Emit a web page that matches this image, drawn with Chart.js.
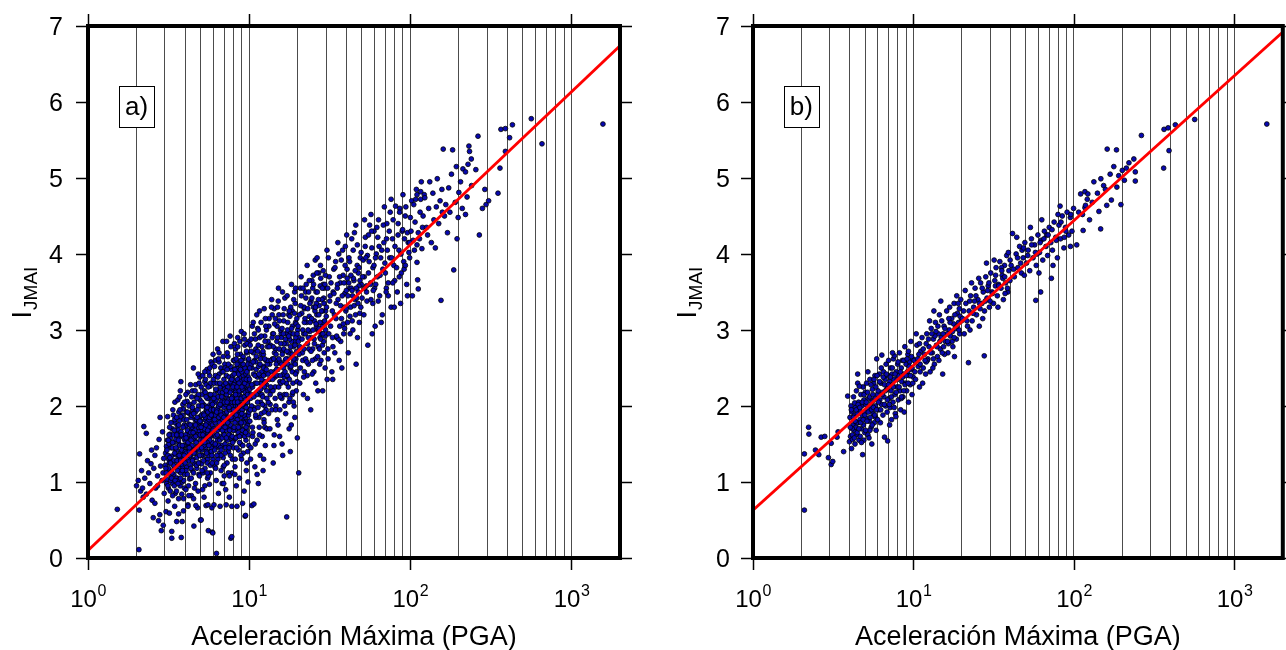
<!DOCTYPE html>
<html><head><meta charset="utf-8">
<script src="https://cdn.jsdelivr.net/npm/chart.js@4.4.1/dist/chart.umd.min.js"></script>
<style>
html,body{margin:0;padding:0;background:#fff;width:1286px;height:650px;overflow:hidden}
canvas{position:absolute;top:0}
#ca{left:0}#cb{left:643px}
</style></head><body>
<canvas id="ca" width="643" height="650"></canvas>
<canvas id="cb" width="643" height="650"></canvas>
<script>
// ---------- axis / tick data ----------
const yTickVals = [0,1,2,3,4,5,6,7];
const decadeVals = [1,10,100,1000];
const decadeExp = ['0','1','2','3'];
const gridPGA = [2,3,4,5,6,7,8,9,10,20,30,40,50,60,70,80,90,100,200,300,400,500,600,700,800,900,1000];
const xTitle = 'Aceleración Máxima (PGA)';
const yTitleMain = 'I', yTitleSub = 'JMAI';
const panelLabels = ['a)','b)'];

// ---------- fitted lines [PGA, I] ----------
const fitA = [[1,0.1],[2000,6.74]];
const fitB = [[1,0.63],[2000,6.92]];

// ---------- panel a) scatter [PGA, I] ----------
const ptsA_low = [[1.52,0.64],[2.07,0.11],[2.08,0.63],[2.09,1.37],[2.22,1.73],[2.3,1.64],[2.0,0.95],[2.05,1.02],[2.12,0.88],[2.18,0.92],[2.25,1.05],[2.3,0.84],[2.38,1.12],[2.42,0.98],[2.46,1.24],[2.5,0.76],[2.54,0.53],[2.56,1.18],[2.6,1.35],[2.63,0.92],[2.66,1.45],[2.7,1.08],[2.74,0.49],[2.76,1.56],[2.79,0.57],[2.82,1.21],[2.85,0.36],[2.88,1.02],[2.9,1.66],[2.93,0.43],[2.95,1.31],[2.97,0.85],[2.34,1.28],[2.15,1.15],[2.6,0.72],[2.48,1.42],[2.8,1.85],[2.7,0.95],[2.92,1.12],[2.2,0.8]];
const ptsA_3to4 = [[3.02,1.22],[3.05,0.61],[3.07,1.47],[3.1,1.03],[3.12,1.86],[3.15,0.92],[3.17,1.3],[3.2,0.59],[3.22,1.15],[3.25,1.58],[3.27,1.08],[3.31,0.26],[3.31,0.35],[3.33,1.7],[3.35,0.98],[3.37,1.26],[3.55,0.48],[3.42,1.52],[3.44,1.19],[3.46,2.05],[3.48,0.85],[3.5,1.42],[3.06,1.12],[3.14,0.75],[3.23,1.63],[3.29,1.34],[3.36,1.95],[3.41,1.1],[3.47,1.78],[3.19,1.25],
[3.52,1.2],[3.54,0.88],[3.57,1.64],[3.59,1.05],[3.61,2.08],[3.63,1.31],[3.65,0.78],[3.67,1.5],[3.69,1.14],[3.71,1.81],[3.73,0.95],[3.75,1.38],[3.77,2.32],[3.79,0.27],[3.81,1.22],[3.83,1.6],[3.85,1.0],[3.87,1.46],[3.89,1.96],[3.91,0.62],[3.93,1.27],[3.95,1.75],[3.97,1.1],[3.99,1.55],[3.56,1.42],[3.62,1.69],[3.68,1.18],[3.74,2.2],[3.8,1.35],[3.86,1.88],[3.92,1.02],[3.98,1.4],[3.6,1.58],[3.72,1.33],[3.84,0.48],
[3.03,1.38],[3.08,0.98],[3.11,1.55],[3.16,1.18],[3.21,1.72],[3.24,0.88],[3.28,1.45],[3.32,1.12],[3.38,1.62],[3.4,1.28],[3.43,0.95],[3.45,1.82],[3.49,1.36],[3.53,1.05],[3.58,1.74],[3.64,1.24],[3.66,1.92],[3.7,1.48],[3.76,1.12],[3.78,1.66],[3.82,1.42],[3.88,2.02],[3.9,1.3],[3.94,1.58],[3.96,0.92],[3.13,1.35],[3.26,1.02],[3.39,1.88],[3.51,1.56],[3.63,1.02],[3.76,1.86],[3.88,1.18],[3.18,1.5],[3.34,1.45],[3.57,1.28],[3.7,2.12],[3.82,0.84],[3.95,1.82],[3.45,0.68],[3.65,0.58]];
const ptsA_4to6 = [[4.02,1.4],[4.05,0.9],[4.08,1.74],[4.1,1.2],[4.12,2.06],[4.15,1.5],[4.17,0.7],[4.2,1.63],[4.22,1.28],[4.25,1.9],[4.27,1.04],[4.3,1.57],[4.33,2.28],[4.35,1.36],[4.38,0.82],[4.4,1.7],[4.43,1.15],[4.46,1.95],[4.48,1.44],[4.51,2.5],[4.54,0.42],[4.56,1.6],[4.59,1.24],[4.62,1.82],[4.65,0.98],[4.67,1.53],[4.7,2.12],[4.73,1.32],[4.76,1.78],[4.79,0.66],[4.82,1.48],[4.85,2.0],[4.88,1.1],[4.91,1.67],[4.94,2.38],[4.97,1.86],[4.99,0.5],[4.17,0.68],[4.67,0.69],[4.07,1.38],[4.28,1.55],[4.44,1.72],[4.6,1.45],[4.75,1.62],[4.9,1.25],[4.36,1.85],[4.52,1.12],[4.83,2.42],[4.14,1.68],[4.64,1.92],[4.41,1.58],
[5.02,1.6],[5.04,0.5],[5.06,1.88],[5.08,1.24],[5.1,2.15],[5.12,1.5],[5.14,0.9],[5.16,1.74],[5.18,1.35],[5.2,2.02],[5.23,1.58],[5.25,0.8],[5.27,1.66],[5.3,2.32],[5.32,1.18],[5.34,1.82],[5.37,1.45],[5.4,0.69],[5.42,1.94],[5.45,1.3],[5.47,2.48],[5.5,1.62],[5.52,1.05],[5.55,0.7],[5.57,1.86],[5.58,0.36],[5.6,1.4],[5.63,2.1],[5.65,1.54],[5.67,0.97],[5.7,1.78],[5.72,2.26],[5.75,1.12],[5.77,1.7],[5.8,2.58],[5.82,1.45],[5.85,1.98],[5.87,0.66],[5.9,0.34],[5.92,1.9],[5.95,0.33],[5.97,2.68],[5.99,1.5],[5.13,1.68],[5.28,1.72],[5.44,1.95],[5.61,2.0],[5.78,1.6],[5.93,1.82],[5.35,2.35],[5.22,1.64],[5.53,1.3],[5.68,2.4],[5.88,1.52],[5.08,1.42],
[4.03,1.62],[4.06,1.15],[4.09,1.92],[4.13,1.32],[4.16,2.18],[4.19,1.45],[4.21,0.95],[4.24,1.76],[4.26,1.4],[4.29,2.02],[4.31,1.22],[4.34,1.65],[4.37,1.05],[4.39,1.88],[4.42,1.48],[4.45,2.2],[4.47,1.3],[4.5,1.75],[4.53,1.58],[4.55,2.05],[4.58,0.92],[4.61,1.68],[4.63,1.38],[4.66,2.28],[4.69,1.52],[4.72,1.82],[4.74,1.18],[4.77,1.95],[4.8,1.62],[4.84,2.15],[4.87,1.42],[4.89,1.78],[4.92,1.08],[4.95,2.08],[4.98,1.55],
[5.01,1.8],[5.05,1.35],[5.09,2.05],[5.11,1.62],[5.15,2.4],[5.17,1.12],[5.21,1.9],[5.24,1.48],[5.26,2.2],[5.29,1.7],[5.31,0.95],[5.36,1.85],[5.38,1.58],[5.41,2.28],[5.43,1.4],[5.46,1.78],[5.49,2.1],[5.51,1.25],[5.54,1.92],[5.56,1.65],[5.59,2.45],[5.62,1.35],[5.64,1.82],[5.66,2.15],[5.69,1.55],[5.71,1.98],[5.74,1.22],[5.76,2.3],[5.79,1.72],[5.81,2.05],[5.83,1.4],[5.86,1.88],[5.89,2.55],[5.91,1.62],[5.94,2.12],[5.96,1.3],[5.98,1.95],[5.19,1.55],[5.33,2.0],[5.48,1.52],[5.62,1.72],[5.77,1.95],[5.92,1.75],[5.04,2.25],[5.58,1.08]];
const ptsA_6to10 = [[6.02,1.95],[6.05,0.7],[6.07,2.3],[6.1,1.62],[6.12,1.2],[6.15,2.05],[6.17,1.78],[6.2,2.6],[6.22,1.45],[6.25,1.02],[6.27,0.06],[6.3,1.88],[6.32,2.2],[6.35,1.55],[6.37,2.75],[6.4,1.3],[6.42,1.98],[6.45,0.85],[6.47,2.12],[6.5,1.7],[6.52,2.42],[6.55,1.38],[6.57,1.82],[6.6,0.68],[6.62,2.02],[6.65,1.6],[6.67,2.5],[6.7,1.15],[6.72,1.92],[6.75,2.25],[6.77,1.48],[6.8,0.98],[6.82,2.08],[6.85,1.75],[6.87,2.85],[6.9,1.32],[6.92,2.0],[6.95,1.65],[6.97,2.35],[7.0,1.08],[7.03,1.85],[7.06,2.55],[7.09,1.5],[7.12,2.15],[7.15,0.9],[7.18,1.9],[7.2,0.7],[7.23,2.4],[7.26,1.72],[7.29,1.25],[7.32,2.1],[7.35,1.58],[7.38,2.65],[7.41,1.98],[7.44,1.4],[7.47,2.28],[7.5,1.8],[7.53,0.8],[7.56,2.05],[7.59,1.62],[7.62,2.92],[7.65,1.35],[7.68,1.95],[7.7,0.26],[7.72,2.2],[7.75,1.7],[7.78,2.48],[7.8,0.28],[7.82,1.12],[7.85,2.12],[7.88,1.55],[7.91,2.35],[7.94,1.88],[7.97,1.45],[7.99,2.6],[6.33,1.72],[6.88,1.9],[7.36,2.0],[7.8,0.68],[6.58,2.18],
[8.02,2.1],[8.05,1.55],[8.08,2.6],[8.11,1.85],[8.14,2.32],[8.17,1.2],[8.2,2.0],[8.23,2.75],[8.26,1.68],[8.29,2.22],[8.32,0.95],[8.35,1.9],[8.38,2.45],[8.4,0.68],[8.43,2.08],[8.46,1.6],[8.49,2.9],[8.52,1.78],[8.55,2.3],[8.58,1.42],[8.61,2.15],[8.64,2.55],[8.67,1.92],[8.7,1.05],[8.73,2.38],[8.76,1.72],[8.79,2.05],[8.82,2.68],[8.85,1.5],[8.88,2.2],[8.91,1.85],[8.94,2.98],[8.97,1.3],[9.0,2.12],[9.03,2.5],[9.06,1.62],[9.09,2.28],[9.1,0.72],[9.13,1.95],[9.16,2.62],[9.19,1.38],[9.22,2.1],[9.25,1.8],[9.28,2.42],[9.31,0.88],[9.34,2.25],[9.37,1.7],[9.4,2.8],[9.44,0.55],[9.47,2.0],[9.5,0.56],[9.53,2.35],[9.56,1.55],[9.59,2.15],[9.62,1.88],[9.65,2.7],[9.68,1.25],[9.71,2.05],[9.74,2.48],[9.77,1.75],[9.8,2.22],[9.83,1.0],[9.86,2.6],[9.89,1.95],[9.92,2.32],[9.95,1.48],[9.98,2.85],[8.6,1.98],[9.2,2.4],[8.35,2.5],
[6.03,1.7],[6.08,2.15],[6.11,1.42],[6.14,1.88],[6.18,2.4],[6.21,1.6],[6.24,2.08],[6.28,1.25],[6.31,1.95],[6.34,2.3],[6.38,1.68],[6.41,2.12],[6.44,1.48],[6.48,1.85],[6.51,2.58],[6.54,1.78],[6.58,1.55],[6.61,2.25],[6.64,1.92],[6.68,1.35],[6.71,2.05],[6.74,1.72],[6.78,2.45],[6.81,1.58],[6.84,2.18],[6.88,1.82],[6.91,1.2],[6.94,2.28],[6.98,1.98],[7.01,1.62],[7.04,2.22],[7.07,1.78],[7.11,2.5],[7.14,1.45],[7.17,2.02],[7.21,1.68],[7.24,2.15],[7.27,1.92],[7.31,2.7],[7.34,1.55],[7.37,2.25],[7.4,1.85],[7.43,1.12],[7.46,2.08],[7.49,1.62],[7.52,2.38],[7.55,1.95],[7.58,1.48],[7.61,2.18],[7.64,1.75],[7.67,2.52],[7.71,2.0],[7.74,1.58],[7.77,2.3],[7.81,1.82],[7.84,2.05],[7.87,1.3],[7.9,2.4],[7.93,2.12],[7.96,1.68],
[8.03,2.28],[8.07,1.72],[8.12,2.05],[8.16,2.48],[8.19,1.58],[8.24,2.18],[8.27,1.92],[8.31,2.62],[8.36,1.45],[8.39,2.1],[8.44,1.82],[8.47,2.35],[8.51,2.0],[8.56,1.65],[8.59,2.42],[8.63,1.88],[8.68,2.2],[8.72,1.52],[8.77,2.58],[8.8,2.02],[8.84,1.75],[8.89,2.32],[8.93,2.1],[8.96,1.62],[9.01,2.45],[9.05,1.95],[9.11,2.22],[9.14,1.48],[9.18,2.65],[9.21,2.0],[9.26,1.78],[9.29,2.35],[9.33,2.12],[9.38,1.6],[9.42,2.5],[9.46,2.18],[9.51,1.85],[9.55,2.42],[9.58,1.98],[9.63,2.72],[9.66,1.68],[9.7,2.28],[9.75,2.05],[9.79,1.4],[9.82,2.55],[9.85,2.2],[9.9,1.88],[9.93,2.62],[9.97,2.1],[8.45,2.68],[8.9,1.35],[9.35,2.88],[9.85,1.62],[8.15,1.1],[8.75,2.85],[9.6,1.15],[7.25,2.85],[6.45,2.62],[6.95,0.98],[7.55,1.08]];
const ptsA_core = [[3.04,1.18],[3.09,1.42],[3.13,0.95],[3.18,1.62],[3.22,1.32],[3.27,1.78],[3.3,1.05],[3.35,1.52],[3.39,1.22],[3.43,1.68],[3.47,1.02],[3.51,1.45],[3.55,1.85],[3.6,1.15],[3.64,1.55],[3.68,1.35],[3.72,1.95],[3.76,1.28],[3.8,1.62],[3.85,1.15],[3.89,1.72],[3.93,1.48],[3.97,2.05],[4.01,1.25],[4.06,1.58],[4.1,1.82],[4.14,1.1],[4.18,1.52],[4.23,2.0],[4.27,1.35],[4.31,1.75],[4.36,1.55],[4.4,2.12],[4.45,1.28],[4.49,1.65],[4.53,1.9],[4.58,1.42],[4.62,2.2],[4.66,1.6],[4.71,1.22],[4.75,1.85],[4.8,1.45],[4.84,1.72],[4.89,2.3],[4.93,1.35],[4.97,1.62],[3.15,1.55],[3.35,0.82],[3.55,1.62],[3.75,1.05],[3.95,1.35],[4.15,1.92],[4.35,1.18],[4.55,1.38],[4.75,2.1],[4.95,1.8],[3.25,1.25],[3.45,1.38],[3.65,1.75],[3.85,1.48],[4.05,2.15],[4.25,1.45],[4.45,1.98],[4.65,1.75],[4.85,1.25],[3.62,0.98],[3.92,0.78],[4.22,0.82],[4.52,0.78],[4.82,0.88],
[5.03,1.72],[5.07,1.45],[5.12,2.0],[5.16,1.62],[5.21,1.28],[5.25,1.88],[5.3,1.52],[5.34,2.18],[5.39,1.75],[5.44,1.38],[5.48,1.98],[5.53,1.68],[5.58,2.25],[5.62,1.48],[5.67,1.85],[5.72,1.62],[5.77,2.15],[5.82,1.88],[5.87,1.35],[5.92,2.02],[5.97,1.68],[6.04,2.1],[6.1,1.82],[6.16,1.5],[6.22,2.22],[6.28,1.92],[6.34,1.62],[6.4,2.38],[6.46,2.0],[6.52,1.72],[6.58,2.3],[6.64,1.45],[6.7,1.88],[6.76,2.12],[6.83,1.68],[6.89,2.45],[6.96,1.85],[7.02,2.05],[7.09,1.72],[7.16,2.3],[7.22,1.58],[7.29,2.05],[7.36,1.78],[7.43,2.55],[7.5,1.98],[7.57,1.68],[7.64,2.32],[7.71,1.85],[7.78,2.1],[7.85,1.6],[7.92,2.25],[8.0,1.95],[8.08,2.42],[8.16,1.78],[8.24,2.15],[8.32,1.88],[8.4,2.55],[8.48,2.05],[8.57,1.72],[8.65,2.3],[8.74,2.0],[8.83,2.48],[8.92,1.78],[9.01,2.25],[9.1,2.02],[9.19,2.55],[9.29,1.88],[9.38,2.3],[9.48,2.08],[9.57,1.72],[9.67,2.45],[9.77,2.15],[9.87,2.38],[9.96,1.92],[5.1,1.15],[5.5,1.12],[5.9,1.25],[6.3,1.35],[6.7,1.42],[7.1,1.38],[7.5,1.45],[7.9,1.52],[8.3,1.58],[8.7,1.6],[9.1,1.68],[9.5,1.65],[9.9,1.8],[5.3,2.45],[5.7,2.5],[6.1,2.52],[6.5,2.7],[6.9,2.65],[7.3,2.48],[7.7,2.78],[8.1,2.82],[8.5,2.78],[8.9,2.6],[9.3,2.95],[9.7,2.82],[6.0,2.35],[6.6,2.02],[7.2,2.2],[7.8,2.35],[8.4,2.25],[9.0,1.9],[9.6,2.35],[5.4,2.12],[6.2,1.18],[7.0,1.22],[8.2,1.3],
[10.1,2.22],[10.4,2.5],[10.7,1.98],[11.0,2.75],[11.3,2.4],[11.6,2.15],[11.9,2.68],[12.2,2.45],[12.5,2.92],[12.8,2.28],[13.1,2.85],[13.4,2.55],[13.7,2.2],[14.0,2.95],[14.3,2.45],[14.6,2.75],[14.9,3.05],[15.2,2.58],[15.5,2.32],[15.8,2.95],[16.1,2.72],[16.4,3.12],[16.7,2.55],[17.0,2.82],[17.3,2.38],[17.6,3.2],[17.9,2.72],[18.2,2.95],[18.5,3.25],[18.8,2.58],[19.1,2.85],[19.4,3.1],[19.7,2.45],[20.0,3.0],[20.6,2.78],[21.2,3.22],[21.8,2.95],[22.4,3.5],[23.0,2.82],[23.6,3.18],[24.2,3.38],[24.8,2.75],[25.4,3.12],[26.0,3.5],[26.6,3.0],[27.2,3.32],[27.8,3.68],[28.4,3.05],[29.0,3.42],[29.6,2.92],[10.5,1.6],[11.5,1.85],[12.5,1.72],[13.5,2.02],[14.5,2.25],[15.5,2.15],[16.5,2.38],[17.5,2.25],[18.5,2.15],[19.5,2.62],[10.3,2.88],[11.3,3.02],[12.3,2.52],[13.3,3.15],[14.3,3.28],[15.3,3.2],[16.3,2.42],[17.3,2.62],[18.3,2.85],[19.3,3.35],[20.8,3.55],[22.0,3.28],[23.3,2.55],[24.5,3.65],[25.8,2.62],[27.0,3.75],[28.5,2.8],[29.8,3.25],[21.5,2.6],[23.8,2.98],[26.3,3.2],[28.8,3.6],[12.0,2.15],[14.8,2.6],[17.8,2.95],[20.3,2.9],[22.7,3.1],[25.1,3.3],[27.5,2.9],[29.3,3.55]];
const ptsA_10to20 = [[10.05,2.35],[10.1,1.8],[10.15,2.8],[10.2,2.1],[10.25,1.45],[10.3,2.55],[10.35,2.0],[10.4,0.69],[10.45,3.05],[10.5,2.25],[10.55,1.65],[10.6,2.7],[10.65,2.42],[10.7,0.71],[10.75,1.95],[10.8,2.6],[10.85,1.2],[10.9,2.3],[10.95,2.88],[11.0,1.85],[11.05,2.48],[11.1,2.15],[11.15,3.2],[11.2,1.55],[11.25,2.38],[11.3,2.72],[11.35,1.98],[11.4,0.98],[11.45,2.52],[11.5,2.2],[11.55,1.72],[11.6,2.9],[11.65,2.4],[11.7,1.35],[11.75,2.62],[11.8,2.05],[11.85,3.1],[11.9,1.9],[11.95,2.45],[12.0,2.78],[12.05,1.6],[12.1,2.32],[12.15,2.12],[12.2,1.15],[12.25,2.68],[12.3,2.5],[12.35,1.82],[12.4,3.28],[12.45,2.25],[12.5,2.0],[12.55,2.85],[12.6,1.48],[12.65,2.42],[12.7,2.6],[12.75,1.95],[12.8,3.0],[12.85,2.2],[12.9,1.7],[12.95,2.55],[10.3,2.15],[11.0,2.58],[11.8,2.3],[12.4,1.92],[10.9,1.5],[11.4,3.0],
[13.05,2.6],[13.15,2.05],[13.25,3.05],[13.35,2.35],[13.45,1.7],[13.55,2.8],[13.65,2.45],[13.75,3.3],[13.85,1.95],[13.95,2.62],[14.05,2.2],[14.15,2.95],[14.25,1.48],[14.35,2.7],[14.45,2.38],[14.55,3.15],[14.65,2.0],[14.75,2.55],[14.85,2.85],[14.95,1.82],[15.05,2.48],[15.15,3.38],[15.25,2.25],[15.35,2.75],[15.45,1.6],[15.55,2.58],[15.65,3.0],[15.75,2.3],[15.85,2.9],[15.95,2.1],[16.05,2.68],[16.15,1.35],[16.25,3.2],[16.35,2.5],[16.45,2.82],[16.55,2.15],[16.65,3.42],[16.75,2.6],[16.85,1.9],[16.95,2.95],[17.1,0.54],[17.2,2.4],[17.35,3.1],[17.5,2.7],[17.65,2.05],[17.8,2.88],[17.95,2.5],[18.1,3.3],[18.25,1.75],[18.4,2.65],[18.55,3.05],[18.7,2.3],[18.85,2.78],[19.0,2.0],[19.15,3.5],[19.3,2.55],[19.45,2.9],[19.6,2.2],[19.75,3.15],[19.9,1.58],[13.6,2.25],[14.1,2.78],[14.9,2.4],[15.6,2.12],[16.3,2.95],[17.0,2.3],[17.7,3.25],[18.5,2.45],[19.2,1.85],[15.2,3.55],[13.9,3.2],[16.9,2.62],[18.9,3.4],[14.6,1.95],[17.9,2.1],
[10.08,2.5],[10.18,1.95],[10.28,2.72],[10.38,2.28],[10.48,1.72],[10.58,2.58],[10.68,2.12],[10.78,2.95],[10.88,2.4],[10.98,1.88],[11.08,2.65],[11.18,2.3],[11.28,2.05],[11.38,2.8],[11.48,2.42],[11.58,1.62],[11.68,2.55],[11.78,2.22],[11.88,2.92],[11.98,2.35],[12.08,2.02],[12.18,2.72],[12.28,2.4],[12.38,1.78],[12.48,2.62],[12.58,2.32],[12.68,3.05],[12.78,2.48],[12.88,2.1],[12.98,2.78],
[13.1,2.42],[13.3,2.78],[13.5,2.15],[13.7,2.6],[13.9,2.9],[14.0,2.35],[14.2,2.62],[14.4,3.08],[14.5,2.1],[14.7,2.68],[14.8,2.48],[15.0,2.9],[15.1,1.75],[15.3,2.62],[15.4,3.12],[15.6,2.4],[15.7,2.82],[15.9,2.55],[16.0,3.02],[16.2,2.32],[16.4,2.75],[16.5,3.28],[16.7,2.45],[16.8,2.88],[17.0,2.15],[17.15,2.72],[17.3,3.0],[17.45,2.55],[17.6,2.92],[17.75,2.35],[17.9,3.18],[18.05,2.78],[18.2,2.52],[18.35,3.02],[18.5,2.68],[18.65,2.18],[18.8,2.95],[18.95,2.62],[19.1,3.22],[19.25,2.8],[19.4,2.42],[19.55,3.08],[19.7,2.72],[19.85,2.95],[13.2,1.9],[14.3,1.62],[15.5,1.95],[16.6,2.0],[17.7,1.7],[18.8,2.05],[19.8,2.32],[13.8,3.4],[15.0,3.3],[16.1,3.5],[17.2,3.45],[18.3,3.6],[19.4,3.55],[10.6,3.1],[11.6,3.25],[12.6,3.15],[10.2,1.3],[11.2,1.1],[12.3,1.3],[14.1,1.25],[16.0,1.5],[18.0,1.4]];
const ptsA_20to60 = [[20.3,1.12],[20.2,2.85],[20.5,3.2],[20.8,2.5],[21.1,3.45],[21.4,2.7],[21.7,2.15],[22.0,3.1],[22.3,2.95],[22.6,3.6],[22.9,2.4],[23.2,3.0],[23.5,2.75],[23.8,3.35],[24.1,1.95],[24.4,3.15],[24.7,2.6],[25.0,3.72],[25.3,2.88],[25.6,3.25],[25.9,2.3],[26.2,3.05],[26.5,3.5],[26.8,2.78],[27.1,3.2],[27.4,2.55],[27.7,3.85],[28.0,2.95],[28.3,3.4],[28.6,2.2],[28.9,3.1],[29.2,2.7],[29.5,3.6],[29.8,3.0],[20.6,2.3],[21.5,3.0],[22.4,2.62],[23.4,3.5],[24.3,2.9],[25.2,2.45],[26.1,3.35],[27.0,2.98],[27.9,2.6],[28.8,3.78],[29.6,2.5],[21.0,3.7],[23.0,2.1],[24.8,3.55],[26.7,2.2],[28.5,3.25],[22.0,2.45],[25.7,3.92],[27.5,3.1],[29.0,2.85],[21.9,3.3],
[30.2,3.3],[30.8,2.75],[31.4,3.7],[32.0,3.05],[32.6,2.45],[33.2,3.5],[33.8,3.2],[34.4,3.9],[35.0,2.9],[35.6,3.4],[36.2,2.6],[36.8,3.62],[37.4,3.15],[38.0,4.05],[38.6,2.95],[39.2,3.48],[39.8,3.25],[40.5,3.8],[41.2,2.7],[41.9,3.55],[42.6,3.3],[43.3,4.2],[44.0,3.0],[44.7,3.65],[45.4,3.4],[46.1,2.55],[46.8,3.85],[47.5,3.5],[48.2,3.1],[48.9,3.95],[49.6,3.6],[31.0,3.95],[32.9,2.9],[34.7,3.35],[36.5,3.05],[38.3,3.72],[40.1,3.52],[42.0,3.9],[43.8,3.45],[45.7,3.2],[47.6,3.75],[49.3,3.3],[30.5,2.35],[33.5,3.8],[37.0,2.85],[39.5,4.1],[42.3,2.95],[45.0,4.28],[48.0,3.58],[35.3,3.6],[31.8,3.45],[40.8,3.1],[46.5,3.42],[38.9,3.3],[44.3,3.68],[34.0,2.7],[36.0,4.0],[41.5,3.62],[47.0,2.9],[43.0,3.55],
[20.1,3.05],[20.4,2.68],[20.9,3.32],[21.3,2.88],[21.6,3.55],[21.9,2.75],[22.2,3.15],[22.5,3.42],[22.8,2.58],[23.1,3.28],[23.3,2.9],[23.6,3.65],[23.9,3.1],[24.2,2.72],[24.5,3.42],[24.9,3.0],[25.1,3.6],[25.4,2.82],[25.8,3.3],[26.0,3.08],[26.3,3.75],[26.6,2.65],[26.9,3.4],[27.2,3.02],[27.6,3.58],[27.8,2.88],[28.1,3.25],[28.4,3.55],[28.7,2.95],[29.1,3.35],[29.4,3.12],[29.7,3.72],[30.1,3.18],[30.7,3.55],[31.2,2.95],[31.6,3.38],[32.2,3.62],[32.8,3.25],[33.1,2.78],[33.6,3.48],[34.1,3.82],[34.6,3.15],[35.2,3.55],[35.8,2.88],[36.4,3.7],[36.9,3.32],[37.3,3.92],[37.8,3.45],[38.4,3.08],[38.8,3.62],[39.4,3.85],[40.0,3.28],[40.6,3.68],[41.0,3.45],[41.6,3.95],[42.2,3.18],[42.8,3.72],[43.5,3.52],[44.2,4.05],[44.8,3.32],[45.5,3.78],[46.2,3.55],[46.9,4.12],[47.4,3.35],[48.1,3.82],[48.7,3.65],[49.5,4.02],[50.2,3.42],[51.0,3.92],[51.8,3.7],[52.6,4.22],[53.4,3.58],[54.2,3.98],[55.0,3.75],[55.9,4.38],[56.8,3.62],[57.7,4.08],[58.6,3.82],[59.5,4.3],[60.0,3.55],[21.8,2.38],[24.6,2.42],[27.3,2.75],[30.9,2.62],[34.9,2.92],[39.1,3.02],[43.6,3.12],[48.6,3.22],[53.8,3.38],[58.9,3.52],[22.9,3.85],[26.4,3.95],[30.4,4.05],[35.5,4.15],[40.3,4.25],[45.9,4.38],[52.0,4.45],[57.0,4.52],[33.0,2.35],[37.6,2.5]];
const ptsA_50to200 = [[50.5,3.7],[51.5,3.2],[52.5,4.1],[53.5,3.5],[54.5,2.8],[55.5,3.9],[56.5,3.6],[57.5,4.3],[58.5,3.35],[59.5,3.85],[60.5,3.05],[61.5,4.0],[62.5,3.7],[63.5,4.45],[64.5,3.45],[65.5,3.95],[67,3.2],[68.5,4.15],[70,3.75],[71.5,4.4],[73,3.45],[74.5,3.95],[76,3.3],[77.5,4.2],[79,3.85],[81,4.63],[83,3.5],[85,4.05],[87,3.35],[89,4.3],[91,3.9],[93,4.5],[95,3.6],[97,4.15],[99,3.95],[52,3.55],[55,4.25],[58,2.95],[61,3.6],[64,4.1],[67.5,3.8],[71,3.55],[75,4.55],[79.5,3.3],[84,4.4],[88,3.75],[92,4.2],[96,3.45],[53,3.95],[57,3.4],[62,4.35],[66,3.1],[72,4.05],[80,3.65],[86,4.6],
[60.8,3.95],[62.8,4.22],[64.9,3.72],[66.5,4.05],[68.0,4.38],[69.5,3.88],[71.2,4.2],[72.9,3.62],[74.0,4.3],[76.5,3.95],[78.2,4.45],[80.3,4.1],[82.2,3.82],[83.9,4.25],[85.8,4.55],[87.5,4.0],[89.6,4.32],[91.5,3.8],[93.8,4.62],[95.8,4.28],[98.0,4.02],[100,4.48],[102,4.7],[104,4.18],[107,4.42],[109,4.85],[112,4.28],[115,4.55],[117,4.95],[119,4.35],[63.2,3.38],[70.8,3.5],[77.8,3.62],[85.4,3.7],[93.2,3.85],[69.0,4.62],[76.0,4.72],[90.0,4.78],[99.0,4.15],[110,4.12],
[101,4.3],[103,3.45],[105,4.65],[108,4.72],[110,4.78],[110,3.89],[111,3.66],[112,3.54],[114,4.2],[116,4.82],[116,4.72],[118,4.07],[120,4.5],[122,4.78],[123,4.74],[126,4.35],[130,4.6],[132,4.95],[135,4.15],[138,4.8],[140,4.45],[143,4.08],[145,4.62],[147,4.99],[150,4.4],[153,4.7],[155,3.39],[157,4.85],[160,5.38],[163,4.5],[166,4.65],[170,4.28],[173,4.87],[176,4.55],[180,5.05],[183,5.37],[186,3.79],[190,4.68],[193,5.15],[195,4.2],[198,4.48],[106,4.05],[128,4.25],[158,4.55]];
const ptsA_high = [[200,4.81],[205,4.95],[212,5.12],[220,5.08],[220,4.52],[228,5.18],[231,5.42],[233,5.35],[239,5.25],[255,5.11],[263,5.55],[268,4.25],[280,4.6],[290,4.85],[295,4.65],[306,4.7],[350,4.8],[360,5.13],[365,5.64],[389,5.65],[389,5.35],[413,5.53],[430,5.7],[563,5.78],[656,5.45],[1567,5.71],[210,4.6],[240,4.9],[225,4.75]];

// ---------- panel b) scatter [PGA, I] ----------
const ptsB_low = [[2.09,0.63],[2.09,1.37],[2.22,1.72],[2.23,1.63],[2.57,1.36],[2.66,1.59],[2.95,1.32],[3.07,1.23],[3.14,1.27],[3.07,1.51],[3.34,1.59],[3.39,1.66],[3.67,1.4],[3.89,2.13],[3.99,1.53],[2.45,1.42],[2.8,1.6]];
const ptsB_4to10 = [[4.02,1.85],[4.05,1.6],[4.08,2.0],[4.11,1.44],[4.14,1.92],[4.17,1.56],[4.2,1.75],[4.23,2.12],[4.26,1.68],[4.29,1.88],[4.32,1.5],[4.35,1.98],[4.38,1.72],[4.41,2.2],[4.44,1.62],[4.47,1.9],[4.49,2.42],[4.49,2.3],[4.52,1.78],[4.55,2.05],[4.58,1.55],[4.61,1.95],[4.64,1.82],[4.66,1.6],[4.7,2.15],[4.73,1.7],[4.76,2.0],[4.79,1.88],[4.82,1.36],[4.85,2.25],[4.88,1.75],[4.91,2.08],[4.94,1.92],[4.97,1.65],[5.0,2.18],[5.05,1.84],[5.1,2.3],[5.15,1.96],[5.2,1.62],[5.25,2.1],[5.3,1.8],[5.35,2.35],[5.4,2.0],[5.45,1.72],[5.5,1.5],[5.55,2.22],[5.6,1.9],[5.65,2.08],[5.7,1.78],[5.75,2.4],[5.8,2.0],[5.85,1.68],[5.9,2.62],[5.95,2.15],[4.3,2.04],[4.6,2.26],[4.9,1.55],[5.2,2.45],[5.5,2.05],[5.8,1.85],[4.15,1.7],[4.45,1.78],[5.05,2.02],[5.35,1.68],[5.65,2.3],
[6.02,2.2],[6.07,1.95],[6.12,2.42],[6.17,2.08],[6.22,1.78],[6.27,2.3],[6.32,2.02],[6.35,2.67],[6.4,2.18],[6.45,1.88],[6.5,2.45],[6.55,2.12],[6.6,1.59],[6.65,2.35],[6.7,2.0],[6.75,2.55],[6.8,2.22],[6.85,1.92],[6.9,1.54],[6.95,2.4],[7.0,2.6],[7.05,2.1],[7.1,2.32],[7.15,1.98],[7.2,2.5],[7.25,2.2],[7.3,1.82],[7.35,2.42],[7.4,2.28],[7.45,2.05],[7.5,2.62],[7.55,2.35],[7.6,2.66],[7.65,2.15],[7.7,1.9],[7.77,1.86],[7.83,2.45],[7.9,2.25],[7.97,2.55],[8.04,2.08],[8.11,2.38],[8.18,2.7],[8.25,2.2],[8.32,1.95],[8.39,2.5],[8.46,2.32],[8.53,2.6],[8.6,2.12],[8.67,2.42],[8.75,1.92],[8.83,2.78],[8.91,2.3],[8.99,2.55],[9.07,2.2],[9.15,2.45],[9.23,2.68],[9.31,2.05],[9.39,2.4],[9.47,2.58],[9.55,2.28],[9.63,2.85],[9.71,2.48],[9.79,2.15],[9.87,2.62],[9.95,2.38],[6.3,2.5],[6.9,2.25],[7.4,2.7],[8.0,2.4],[8.7,2.2],[9.3,2.72],[6.6,2.28],[7.1,1.75],[8.4,2.1],[9.8,2.5],
[4.04,1.72],[4.1,1.95],[4.16,1.62],[4.22,1.85],[4.28,1.58],[4.33,1.8],[4.4,1.95],[4.46,1.65],[4.52,2.02],[4.57,1.7],[4.63,1.98],[4.69,1.78],[4.74,1.52],[4.8,2.05],[4.86,1.82],[4.92,2.15],[4.98,1.88],[5.03,1.68],[5.08,2.05],[5.13,1.8],[5.18,2.18],[5.23,1.92],[5.28,1.58],[5.33,2.12],[5.38,1.85],[5.43,2.28],[5.48,1.95],[5.53,1.75],[5.58,2.15],[5.63,1.98],[5.68,2.35],[5.73,1.88],[5.78,2.1],[5.83,2.25],[5.88,1.95],[5.93,2.4],[5.98,1.82],
[6.05,2.05],[6.15,2.32],[6.25,1.95],[6.38,2.15],[6.48,2.38],[6.58,2.02],[6.68,2.2],[6.78,2.42],[6.88,2.08],[6.98,2.28],[7.08,2.02],[7.18,2.38],[7.28,2.12],[7.38,2.5],[7.48,2.25],[7.58,1.98],[7.68,2.42],[7.8,2.18],[7.92,2.35],[8.02,2.58],[8.14,2.25],[8.28,2.45],[8.42,2.12],[8.56,2.38],[8.7,2.6],[8.85,2.28],[9.0,2.4],[9.12,2.62],[9.27,2.3],[9.42,2.52],[9.58,2.4],[9.72,2.65],[9.9,2.3]];
const ptsB_10to40 = [[10.1,2.6],[10.3,2.35],[10.5,2.8],[10.7,2.52],[10.9,2.25],[11.1,2.72],[11.3,2.9],[11.5,2.5],[11.7,2.68],[11.9,2.42],[12.1,2.95],[12.3,2.62],[12.5,2.78],[12.7,2.45],[12.9,3.02],[13.1,2.7],[13.3,2.88],[13.5,2.55],[13.7,3.1],[13.9,2.8],[14.1,2.65],[14.3,2.95],[14.5,3.2],[14.7,2.75],[14.9,2.9],[15.2,2.42],[15.5,3.05],[15.8,2.85],[16.1,3.25],[16.4,2.7],[16.7,3.0],[17.0,2.92],[17.3,3.15],[17.6,2.78],[17.9,3.35],[18.2,3.02],[18.5,2.88],[18.8,3.22],[19.1,3.1],[19.4,2.95],[19.7,3.4],[10.4,2.95],[10.8,2.68],[11.4,2.3],[12.0,2.82],[12.6,3.12],[13.2,2.5],[13.8,2.98],[14.4,2.6],[15.0,3.12],[15.6,2.68],[16.2,2.95],[16.8,3.3],[17.4,2.85],[18.0,2.65],[18.6,3.45],[19.2,3.0],[11.0,2.45],[12.2,2.6],[13.4,3.25],[14.8,3.38],[16.5,2.82],[17.8,3.08],[19.5,3.18],[15.3,2.95],
[10.2,2.45],[10.6,2.62],[11.0,2.55],[11.5,2.75],[12.0,2.58],[12.4,2.88],[12.8,2.7],[13.3,2.62],[13.6,2.92],[14.0,2.78],[14.6,2.85],[15.1,2.7],[15.7,3.02],[16.3,2.85],[16.9,3.1],[17.5,2.98],[18.1,3.2],[18.7,3.05],[19.3,3.28],[19.9,3.12],[10.9,2.82],[11.8,2.6],[13.0,2.95],[14.2,3.05],[15.4,2.78],[16.6,3.15],[17.9,2.9],[19.0,3.35],
[20.2,3.15],[20.7,2.95],[21.2,3.35],[21.7,3.05],[22.0,2.57],[22.2,3.25],[22.7,3.45],[23.2,3.12],[23.7,3.3],[24.2,3.55],[24.7,3.2],[25.2,3.4],[25.7,3.05],[26.2,3.62],[26.7,3.35],[27.2,3.5],[27.6,2.66],[27.7,3.25],[28.2,3.7],[28.7,3.42],[29.2,3.58],[29.7,3.3],[30.3,3.75],[30.9,3.5],[31.5,3.35],[32.1,3.65],[32.7,3.82],[33.3,3.45],[33.9,3.6],[34.5,3.9],[35.1,3.55],[35.7,3.72],[36.3,3.4],[36.9,3.85],[37.5,3.62],[38.1,3.98],[38.7,3.5],[39.3,3.78],[39.9,3.65],[21.0,3.52],[22.5,3.0],[24.0,3.38],[25.5,3.68],[27.0,3.15],[28.5,3.88],[30.0,3.38],[31.8,3.92],[33.6,3.3],[35.4,3.82],[37.2,3.48],[39.0,4.02],[23.0,3.62],[26.0,3.28],[29.0,3.52],[32.4,3.58],[36.0,3.68],
[20.5,3.25],[21.5,3.12],[22.4,3.38],[23.5,3.22],[24.5,3.45],[25.8,3.35],[26.8,3.55],[28.0,3.38],[29.5,3.62],[31.0,3.48],[32.5,3.72],[34.0,3.58],[35.5,3.78],[37.0,3.7],[38.5,3.55]];
const ptsB_40to100 = [[40.6,3.85],[41.4,4.27],[42.5,3.7],[43.6,4.0],[44.7,3.82],[45.8,4.1],[47,3.75],[48.2,3.95],[49.4,4.15],[50.6,3.88],[51.8,4.05],[53,3.78],[54.3,4.2],[55.6,3.95],[56.9,4.12],[57.8,3.39],[58.2,3.85],[59.6,4.25],[61,4.02],[62,3.5],[62.4,4.18],[63,4.45],[63.9,3.92],[65.4,4.3],[66.9,4.1],[68.5,3.98],[70.1,4.35],[71.7,4.15],[72.3,3.68],[73.4,4.05],[75.2,4.42],[77,4.22],[78.8,3.95],[80.6,4.38],[81.9,4.63],[82.5,4.2],[84.5,4.5],[86.5,4.08],[88.5,4.35],[90.6,4.55],[92.7,4.25],[94.9,4.48],[97.1,4.3],[99.4,4.6],[44,4.22],[49,3.72],[53.5,4.35],[58.8,4.0],[67.5,4.25],[74,3.85],[79.5,4.52],[87,4.22],[95,4.1],[60.5,3.75],[47.5,4.05],
[40.0,3.92],[42.0,3.8],[44.5,3.95],[46.5,3.88],[48.5,4.08],[51.5,3.98],[54.5,4.12],[57.5,4.02],[61.5,4.15],[65.0,4.2],[69.0,4.25],[73.0,4.32],[77.5,4.18],[83.0,4.42],[89.0,4.3],[95.5,4.52]];
const ptsB_high = [[104,4.12],[107,4.55],[110,4.79],[113,4.52],[114,4.31],[117,4.82],[117,4.61],[118,4.64],[121,4.72],[122,4.79],[125,4.45],[130,4.68],[133,4.95],[140,4.8],[143,4.56],[147,4.99],[146.6,4.33],[153,4.9],[157,4.85],[160,4.64],[161,5.38],[168,5.05],[171,4.71],[177,5.15],[184,5.37],[185,4.88],[190,5.03],[196,4.65],[200,5.1],[206,4.97],[212,5.13],[220,5.2],[236,5.25],[241,5.08],[241,4.96],[263,5.56],[362,5.13],[364,5.64],[386,5.66],[391,5.36],[428,5.7],[565,5.77],[1590,5.71]];

const panelA = [].concat(ptsA_low, ptsA_3to4, ptsA_4to6, ptsA_6to10, ptsA_core, ptsA_10to20, ptsA_20to60, ptsA_50to200, ptsA_high);
const panelB = [].concat(ptsB_low, ptsB_4to10, ptsB_10to40, ptsB_40to100, ptsB_high);

// ---------- drawing ----------
const FONT = '"Liberation Sans", Arial, Helvetica, sans-serif';
const toXY = arr => arr.map(p => ({x: p[0], y: p[1]}));

const deco = {
  id: 'deco',
  afterDraw(chart, args, o) {
    const ctx = chart.ctx, a = chart.chartArea, x = chart.scales.x, y = chart.scales.y;
    ctx.save();
    ctx.strokeStyle = '#000'; ctx.fillStyle = '#000';
    ctx.lineWidth = 1.5;
    ctx.beginPath();
    yTickVals.forEach(v => {
      const py = Math.round(y.getPixelForValue(v)) + 0.5;
      ctx.moveTo(a.left - 12, py); ctx.lineTo(a.left, py);
      ctx.moveTo(a.right, py); ctx.lineTo(a.right + 12, py);
    });
    decadeVals.forEach(v => {
      const px = Math.round(x.getPixelForValue(v)) + 0.5;
      ctx.moveTo(px, a.top - 12); ctx.lineTo(px, a.top);
      ctx.moveTo(px, a.bottom); ctx.lineTo(px, a.bottom + 12);
    });
    ctx.stroke();
    ctx.lineWidth = 4;
    ctx.strokeRect(a.left, a.top, a.right - a.left, a.bottom - a.top);

    // y tick labels
    ctx.font = '25px ' + FONT; ctx.textAlign = 'right'; ctx.textBaseline = 'alphabetic';
    yTickVals.forEach(v => ctx.fillText(String(v), a.left - o.yLabGap, y.getPixelForValue(v) + 9));

    // x tick labels 10^n
    ctx.textAlign = 'left';
    decadeVals.forEach((v, i) => {
      const px = x.getPixelForValue(v);
      ctx.font = '24px ' + FONT; const w1 = ctx.measureText('10').width;
      ctx.font = '16px ' + FONT; const w2 = ctx.measureText(decadeExp[i]).width;
      const x0 = px - (w1 + w2) / 2;
      ctx.font = '24px ' + FONT; ctx.fillText('10', x0, a.bottom + 49);
      ctx.font = '16px ' + FONT; ctx.fillText(decadeExp[i], x0 + w1 + 0.5, a.bottom + 38);
    });

    // x title
    ctx.font = '27px ' + FONT; ctx.textAlign = 'center';
    ctx.fillText(xTitle, (a.left + a.right) / 2, a.bottom + 87);

    // y title (rotated, with subscript)
    ctx.save();
    ctx.translate(a.left - o.yTitleOff, (a.top + a.bottom) / 2 + 1);
    ctx.rotate(-Math.PI / 2);
    ctx.textAlign = 'left';
    ctx.font = '27px ' + FONT; const wI = ctx.measureText(yTitleMain).width;
    ctx.font = '19px ' + FONT; const wS = ctx.measureText(yTitleSub).width;
    const t0 = -(wI + wS) / 2;
    ctx.font = '27px ' + FONT; ctx.fillText(yTitleMain, t0, 0);
    ctx.font = '19px ' + FONT; ctx.fillText(yTitleSub, t0 + wI + 1, 6);
    ctx.restore();

    // panel label box
    const bx = x.getPixelForValue(2), by = a.top + 80.5;
    ctx.font = '26px ' + FONT;
    const tw = ctx.measureText(o.label).width;
    const bw = Math.round(tw + 12), bh = 41;
    const l = Math.round(bx - bw / 2) + 0.5, t = Math.round(by - bh / 2) + 0.5;
    ctx.fillStyle = '#fff'; ctx.fillRect(l, t, bw, bh);
    ctx.lineWidth = 1; ctx.strokeStyle = '#000'; ctx.strokeRect(l, t, bw, bh);
    ctx.fillStyle = '#000'; ctx.textAlign = 'center';
    ctx.fillText(o.label, bx, by + 8);
    ctx.restore();
  }
};

function makeChart(id, pts, fit, opt) {
  return new Chart(document.getElementById(id), {
    type: 'scatter',
    data: {
      datasets: [
        { type: 'line', data: toXY(fit), borderColor: '#f00', borderWidth: 2.8, pointRadius: 0, fill: false, tension: 0 },
        { data: toXY(pts), backgroundColor: '#0808b0', borderColor: '#000', borderWidth: 0.8, pointRadius: 2.4, pointHoverRadius: 2.4 }
      ]
    },
    options: {
      responsive: false, animation: false, devicePixelRatio: 1,
      layout: { padding: { top: 26, right: opt.padRight, left: 0, bottom: 0 } },
      plugins: { legend: { display: false }, tooltip: { enabled: false }, deco: opt },
      scales: {
        x: {
          type: 'logarithmic', min: 1, max: 2000,
          afterBuildTicks: s => { s.ticks = gridPGA.map(v => ({ value: v })); },
          afterFit: s => { s.height = 92; },
          grid: { color: 'rgba(0,0,0,0.7)', lineWidth: 1, drawTicks: false },
          border: { display: false },
          ticks: { display: false }
        },
        y: {
          min: 0, max: 7,
          afterFit: s => { s.width = opt.yWidth; },
          grid: { display: false, drawTicks: false },
          border: { display: false },
          ticks: { display: false }
        }
      }
    },
    plugins: [deco]
  });
}

makeChart('ca', panelA, fitA, { label: panelLabels[0], yWidth: 88, padRight: 23, yLabGap: 25, yTitleOff: 57 });
makeChart('cb', panelB, fitB, { label: panelLabels[1], yWidth: 110, padRight: 3, yLabGap: 23, yTitleOff: 57 });
</script></body></html>
